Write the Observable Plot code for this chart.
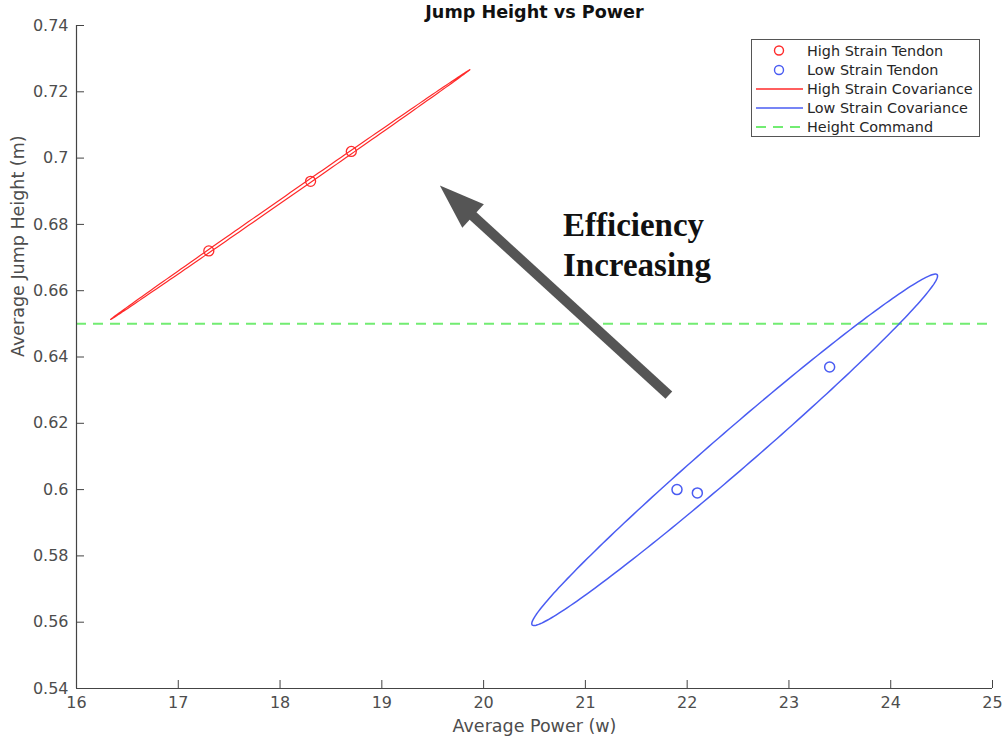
<!DOCTYPE html>
<html><head><meta charset="utf-8">
<script src="https://cdn.jsdelivr.net/npm/d3@7"></script>
<script src="https://cdn.jsdelivr.net/npm/@observablehq/plot@0.6"></script>
<style>
body{margin:0;background:#fff;font-family:"DejaVu Sans",sans-serif;}
#wrap{position:relative;width:1004px;height:740px;}
#legend{position:absolute;left:751px;top:39px;}
</style></head><body><div id="wrap"></div>
<script>
// ---- data ----
const highPower = [17.3, 18.3, 18.7];
const highHeight = [0.672, 0.693, 0.702];
const lowPower = [21.9, 22.1, 23.4];
const lowHeight = [0.600, 0.599, 0.637];
const heightCommand = 0.65;
const xTicks = [16, 17, 18, 19, 20, 21, 22, 23, 24, 25];
const yTicks = [0.54, 0.56, 0.58, 0.6, 0.62, 0.64, 0.66, 0.68, 0.7, 0.72, 0.74];
const yTickLabels = ["0.54","0.56","0.58","0.6","0.62","0.64","0.66","0.68","0.7","0.72","0.74"];
const arrowTail = [21.82, 0.6285];
const arrowTip = [19.57, 0.6917];
const annotationText = ["Efficiency", "Increasing"];
const annotationAt = [20.78, 0.6643];
const legendLabels = ["High Strain Tendon","Low Strain Tendon","High Strain Covariance","Low Strain Covariance","Height Command"];
const chi2_95 = 5.991; // 95% confidence, 2 dof

const RED = "#ff2a2a", BLUE = "#4a5cf2", GREEN = "#72ec72", GREY = "#555";

// covariance (95%) ellipse computed from the points
function covEllipse(xs, ys, n = 240) {
  const N = xs.length, mx = d3.mean(xs), my = d3.mean(ys);
  let sxx = 0, syy = 0, sxy = 0;
  for (let i = 0; i < N; i++) {
    const dx = xs[i] - mx, dy = ys[i] - my;
    sxx += dx * dx; syy += dy * dy; sxy += dx * dy;
  }
  sxx /= N - 1; syy /= N - 1; sxy /= N - 1;
  const tr = sxx + syy, det = sxx * syy - sxy * sxy;
  const disc = Math.sqrt(Math.max(tr * tr / 4 - det, 0));
  const l1 = tr / 2 + disc, l2 = Math.max(tr / 2 - disc, 0);
  let vx = l1 - syy, vy = sxy; const nn = Math.hypot(vx, vy); vx /= nn; vy /= nn;
  const k = Math.sqrt(chi2_95), a = k * Math.sqrt(l1), b = k * Math.sqrt(l2);
  const pts = [];
  for (let i = 0; i <= n; i++) {
    const t = 2 * Math.PI * i / n, c = Math.cos(t), s = Math.sin(t);
    pts.push({x: mx + a * c * vx - b * s * vy, y: my + a * c * vy + b * s * vx});
  }
  return pts;
}

const high = highPower.map((x, i) => ({x, y: highHeight[i]}));
const low = lowPower.map((x, i) => ({x, y: lowHeight[i]}));
const highEll = covEllipse(highPower, highHeight);
const lowEll = covEllipse(lowPower, lowHeight);

const shaftEnd = [arrowTail[0] + 0.885 * (arrowTip[0] - arrowTail[0]), arrowTail[1] + 0.885 * (arrowTip[1] - arrowTail[1])];
const headSymbol = {draw(ctx) { ctx.moveTo(0, 0); ctx.lineTo(-16, 45); ctx.lineTo(16, 45); ctx.closePath(); }};

const chart = Plot.plot({
  width: 1004, height: 740,
  marginLeft: 76, marginRight: 12, marginTop: 25, marginBottom: 52,
  style: {fontFamily: "DejaVu Sans", background: "#fff"},
  x: {domain: [16, 25]},
  y: {domain: [0.54, 0.74]},
  marks: [
    Plot.ruleY([heightCommand], {stroke: GREEN, strokeWidth: 2, strokeDasharray: "10,7"}),
    Plot.line(highEll, {x: "x", y: "y", stroke: RED, strokeWidth: 1.2}),
    Plot.line(lowEll, {x: "x", y: "y", stroke: BLUE, strokeWidth: 1.5}),
    Plot.dot(high, {x: "x", y: "y", r: 5, stroke: RED, strokeWidth: 1.3}),
    Plot.dot(low, {x: "x", y: "y", r: 5, stroke: BLUE, strokeWidth: 1.5}),
    Plot.link([0], {x1: () => arrowTail[0], y1: () => arrowTail[1], x2: () => shaftEnd[0], y2: () => shaftEnd[1], stroke: GREY, strokeWidth: 10}),
    Plot.dot([0], {x: () => arrowTip[0], y: () => arrowTip[1], symbol: headSymbol, fill: GREY, stroke: "none", rotate: -47.6}),
    Plot.text([annotationText.join("\n")], {x: () => annotationAt[0], y: () => annotationAt[1], textAnchor: "start", lineAnchor: "bottom", lineHeight: 1.24, fontFamily: "Liberation Serif", fontWeight: "bold", fontSize: 33, fill: "#111"}),
    Plot.ruleY([0.54], {stroke: "#444", strokeWidth: 1.2}),
    Plot.ruleX([16], {stroke: "#444", strokeWidth: 1.2}),
    Plot.axisX(xTicks, {tickSize: -8, tickPadding: 16, fontSize: 16, color: "#4d4d4d", stroke: "#444", label: null}),
    Plot.axisY(yTicks, {tickSize: -8, tickPadding: 16, fontSize: 16, color: "#4d4d4d", stroke: "#444", label: null, tickFormat: (d, i) => yTickLabels[i]}),
    Plot.text(["Average Power (w)"], {frameAnchor: "bottom", dy: 43, fontSize: 17.5, fill: "#4d4d4d"}),
    Plot.text(["Average Jump Height (m)"], {frameAnchor: "left", dx: -58, rotate: -90, fontSize: 17.5, fill: "#4d4d4d"}),
    Plot.text(["Jump Height vs Power"], {frameAnchor: "top", dy: -20, fontSize: 17.6, fontWeight: "bold", fill: "#111"})
  ]
});
const wrap = document.getElementById("wrap");
wrap.appendChild(chart);

// legend overlay
const lg = d3.select(wrap).append("svg").attr("id", "legend").attr("width", 230).attr("height", 99);
lg.append("rect").attr("x", 0.5).attr("y", 0.5).attr("width", 228).attr("height", 97).attr("fill", "#fff").attr("stroke", "#555").attr("stroke-width", 1);
const rowY = [11.5, 31, 50, 69, 88];
const kinds = [["dot", RED], ["dot", BLUE], ["line", RED], ["line", BLUE], ["dash", GREEN]];
legendLabels.forEach((lab, i) => {
  const [kind, col] = kinds[i], y = rowY[i];
  if (kind === "dot") lg.append("circle").attr("cx", 28).attr("cy", y).attr("r", 4.5).attr("fill", "none").attr("stroke", col).attr("stroke-width", 1.4);
  else lg.append("line").attr("x1", 5).attr("x2", 52).attr("y1", y).attr("y2", y).attr("stroke", col).attr("stroke-width", kind === "dash" ? 2 : 1.5).attr("stroke-dasharray", kind === "dash" ? "10,7" : null);
  lg.append("text").attr("x", 56).attr("y", y).attr("dy", "0.35em").attr("font-size", 14.4).attr("font-family", "DejaVu Sans").attr("fill", "#262626").text(lab);
});
</script></body></html>
